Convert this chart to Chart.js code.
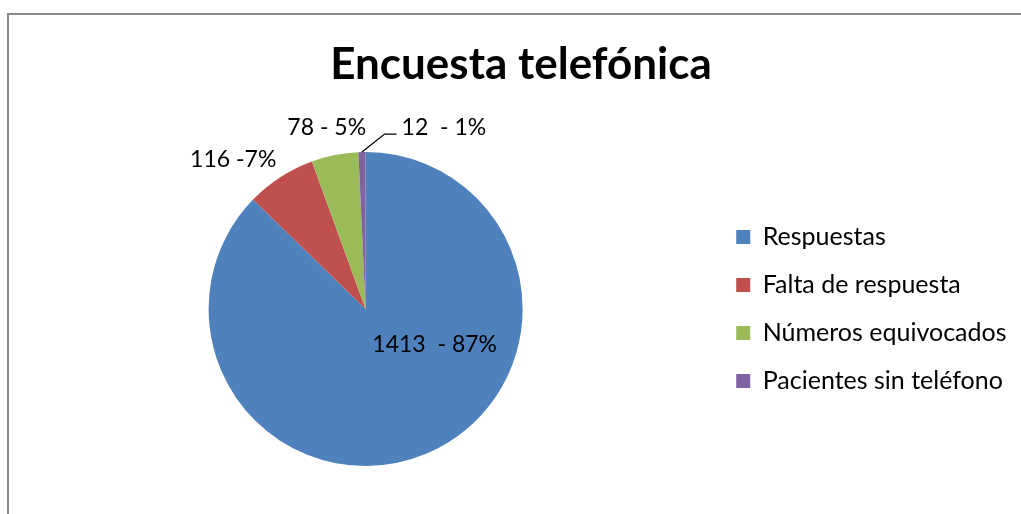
<!DOCTYPE html>
<html>
<head>
<meta charset="utf-8">
<script src="https://cdn.jsdelivr.net/npm/chart.js@4"></script>
<style>
  html, body { margin: 0; padding: 0; background: #fff; overflow: hidden; width: 1021px; height: 514px; }
  #frame {
    position: absolute; left: 7px; top: 13px; width: 1100px; height: 600px;
    border-left: 2px solid #8a8a8a; border-top: 2px solid #8a8a8a;
  }
  /* the chart box runs a little past the right edge of the window, like the cropped original */
  #wrap { position: absolute; left: 0; top: 0; width: 1040px; height: 514px; }
</style>
</head>
<body>
<div id="frame"></div>
<div id="wrap"><canvas id="pieCanvas"></canvas></div>
<script>
// data
const categories = ['Respuestas', 'Falta de respuesta', 'Números equivocados', 'Pacientes sin teléfono'];
const counts = [1413, 116, 78, 12];
const labelSeparators = ['  - ', ' -', ' - ', '  - '];
const sliceColors = ['#4F81BD', '#C0504D', '#9BBB59', '#8064A2'];
const chartTitle = 'Encuesta telefónica';

// "count - pct%" labels, placed from each arc's own geometry
const sliceLabels = {
  id: 'sliceLabels',
  afterDatasetsDraw(chart, args, opts) {
    const ctx = chart.ctx;
    const meta = chart.getDatasetMeta(0);
    const total = counts.reduce((a, b) => a + b, 0);
    ctx.save();
    ctx.font = opts.font;
    ctx.fillStyle = '#000';
    ctx.strokeStyle = '#000';
    ctx.lineWidth = 1.3;
    ctx.textBaseline = 'alphabetic';
    meta.data.forEach((arc, i) => {
      const p = opts.place[i];
      const mid = (arc.startAngle + arc.endAngle) / 2;
      const r = arc.outerRadius;
      const ex = arc.x + Math.cos(mid) * r;
      const ey = arc.y + Math.sin(mid) * r;
      const text = counts[i] + labelSeparators[i] + Math.round(counts[i] / total * 100) + '%';
      let tx, ty;
      if (p.inside) {
        tx = arc.x + p.fx * r;
        ty = arc.y + p.fy * r;
      } else {
        tx = ex + p.dx;
        ty = ey + p.dy;
      }
      if (p.leader) {
        ctx.beginPath();
        ctx.moveTo(ex, ey);
        ctx.lineTo(ex + p.leader[0], ey + p.leader[1]);
        ctx.lineTo(ex + p.leader[2], ey + p.leader[1]);
        ctx.stroke();
      }
      ctx.textAlign = p.align;
      ctx.fillText(text, tx, ty);
    });
    ctx.restore();
  }
};

Chart.defaults.font.family = 'Lato, "Open Sans", sans-serif';
Chart.defaults.color = '#000';

const ctx = document.getElementById('pieCanvas').getContext('2d');
new Chart(ctx, {
  type: 'pie',
  data: {
    labels: categories,
    datasets: [{
      data: counts,
      backgroundColor: sliceColors,
      borderWidth: 0,
      radius: 157
    }]
  },
  options: {
    responsive: true,
    maintainAspectRatio: false,
    animation: false,
    layout: { padding: { left: 18, right: 16, top: 0, bottom: 0 } },
    plugins: {
      title: {
        display: true,
        text: chartTitle,
        color: '#000',
        font: { size: 44, weight: 'bold' },
        padding: { top: 38.6, bottom: 12.6 }
      },
      // empty box on the far right, keeps the legend off the edge
      subtitle: {
        display: true,
        position: 'right',
        text: '',
        font: { size: 1, lineHeight: 1 },
        padding: { top: 6.5, bottom: 0 }
      },
      legend: {
        position: 'right',
        fullSize: false,
        maxWidth: 400,
        labels: {
          boxWidth: 14,
          boxHeight: 14,
          padding: 23,
          color: '#000',
          font: { size: 25 }
        }
      },
      tooltip: { enabled: false },
      sliceLabels: {
        font: '23px Lato, "Open Sans", sans-serif',
        place: [
          { inside: true, fx: 0.44, fy: 0.274, align: 'center' },
          { dx: -4, dy: -10, align: 'right' },
          { dx: -8, dy: -20, align: 'center' },
          { dx: 39.6, dy: -17, align: 'left', leader: [22.6, -18, 34.6] }
        ]
      }
    }
  },
  plugins: [sliceLabels]
});
</script>
</body>
</html>
